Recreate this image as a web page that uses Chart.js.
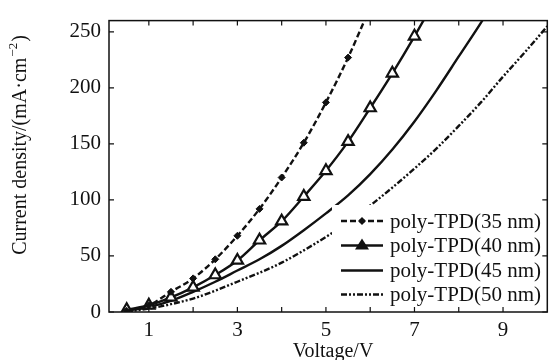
<!DOCTYPE html>
<html>
<head>
<meta charset="utf-8">
<script src="https://cdn.jsdelivr.net/npm/chart.js@4.4.1/dist/chart.umd.min.js"></script>
<style>
  html, body { margin: 0; padding: 0; background: #fff; }
  #wrap { width: 556px; height: 360px; }
</style>
</head>
<body>
<div id="wrap"><canvas id="myChart" width="556" height="360"></canvas></div>
<script>
//Voltage steps (V), every curve is sampled on the same 0.5 V grid
const voltage = [0.5, 1, 1.5, 2, 2.5, 3, 3.5, 4, 4.5, 5, 5.5, 6, 6.5, 7, 7.5, 8, 8.5, 9, 9.5, 10];
//Current density (mA/cm2), one list per film thickness
const tpd35 = [1, 6, 18, 30, 47, 68, 92, 120, 151, 187, 227, 272];
const tpd40 = [2, 6, 13, 22, 33, 46, 64, 81, 103, 126, 152, 182, 213, 246, 281];
const tpd45 = [1, 4.5, 10, 18, 27, 37, 47, 59, 73, 88, 104, 123, 145, 170, 198, 228, 258, 290];
const tpd50 = [0.5, 3, 7, 12, 19, 27, 35, 44, 55, 67, 80, 95, 111, 128, 146, 166, 187, 210, 232, 255];
const seriesNames = ['poly-TPD(35 nm)', 'poly-TPD(40 nm)', 'poly-TPD(45 nm)', 'poly-TPD(50 nm)'];
//Axis ticks: marks on every volt, labels only on odd ones
const xTicks = [1, 2, 3, 4, 5, 6, 7, 8, 9];
const xLabels = [1, 3, 5, 7, 9];
const yTicks = [0, 50, 100, 150, 200, 250];

const serif = '"Liberation Serif", "Times New Roman", serif';

//zip a current list with the voltage grid
const toPoints = (vals) => vals.map((j, i) => ({x: voltage[i], y: j}));

const baseLine = {
  borderColor: '#111',
  backgroundColor: '#111',
  borderWidth: 2.4,
  fill: false,
  cubicInterpolationMode: 'monotone',
  pointRadius: 0
};

const datasets = [
  Object.assign({}, baseLine, {
    label: seriesNames[0], data: toPoints(tpd35),
    borderDash: [6, 3], pointStyle: 'rectRot', pointRadius: 3.5,
    pointBackgroundColor: '#111', pointBorderColor: '#111', pointBorderWidth: 1
  }),
  Object.assign({}, baseLine, {
    label: seriesNames[1], data: toPoints(tpd40),
    pointStyle: 'triangle', pointRadius: 6.5,
    pointBackgroundColor: '#fff', pointBorderColor: '#111', pointBorderWidth: 2.2
  }),
  Object.assign({}, baseLine, {label: seriesNames[2], data: toPoints(tpd45)}),
  Object.assign({}, baseLine, {
    label: seriesNames[3], data: toPoints(tpd50),
    borderDash: [6, 2, 2, 2, 2, 2]
  })
];

//Frame, inward ticks, axis titles and the white legend box are drawn by hand
const framePlugin = {
  id: 'frame',
  afterDatasetsDraw(chart) {
    const {ctx, chartArea: a, scales: {x, y}} = chart;
    ctx.save();

    //legend box covers the curves behind it
    ctx.fillStyle = '#fff';
    ctx.fillRect(332, 205, a.right - 332, a.bottom - 205);
    const rows = [221, 245.5, 270.5, 294.5];
    chart.data.datasets.forEach((ds, i) => {
      const yy = rows[i];
      ctx.strokeStyle = '#111';
      ctx.lineWidth = 2.4;
      ctx.setLineDash(ds.borderDash || []);
      ctx.beginPath();
      ctx.moveTo(341, yy);
      ctx.lineTo(383, yy);
      ctx.stroke();
      ctx.setLineDash([]);
      ctx.fillStyle = '#111';
      if (ds.pointStyle === 'rectRot') {
        ctx.beginPath();
        ctx.moveTo(362, yy - 4); ctx.lineTo(366, yy); ctx.lineTo(362, yy + 4); ctx.lineTo(358, yy);
        ctx.closePath(); ctx.fill();
      } else if (ds.pointStyle === 'triangle') {
        ctx.beginPath();
        ctx.moveTo(362, yy - 7); ctx.lineTo(369, yy + 4); ctx.lineTo(355, yy + 4);
        ctx.closePath(); ctx.fill();
      }
      ctx.font = '21px ' + serif;
      ctx.textAlign = 'left';
      ctx.textBaseline = 'middle';
      ctx.fillText(ds.label, 390, yy + 1);
    });

    //box
    ctx.strokeStyle = '#111';
    ctx.lineWidth = 1.5;
    ctx.strokeRect(a.left, a.top, a.right - a.left, a.bottom - a.top);

    //inward ticks on all four sides
    ctx.lineWidth = 1.2;
    ctx.beginPath();
    xTicks.forEach(v => {
      const px = x.getPixelForValue(v);
      ctx.moveTo(px, a.bottom); ctx.lineTo(px, a.bottom - 5);
      ctx.moveTo(px, a.top); ctx.lineTo(px, a.top + 5);
    });
    yTicks.forEach(v => {
      const py = y.getPixelForValue(v);
      ctx.moveTo(a.left, py); ctx.lineTo(a.left + 5, py);
      ctx.moveTo(a.right, py); ctx.lineTo(a.right - 5, py);
    });
    ctx.stroke();

    //axis titles
    ctx.fillStyle = '#111';
    ctx.font = '20px ' + serif;
    ctx.textAlign = 'center';
    ctx.textBaseline = 'middle';
    ctx.fillText('Voltage/V', 333, 352);

    ctx.translate(21, 145);
    ctx.rotate(-Math.PI / 2);
    const main = 'Current density/(mA\u00b7cm';
    const sup = '\u22122';
    const tail = ')';
    const wMain = ctx.measureText(main).width;
    const wTail = ctx.measureText(tail).width;
    ctx.font = '13px ' + serif;
    const wSup = ctx.measureText(sup).width;
    const total = wMain + wSup + wTail + 2;
    let cx = -total / 2;
    ctx.textAlign = 'left';
    ctx.font = '20px ' + serif;
    ctx.fillText(main, cx, 0);
    cx += wMain + 1;
    ctx.font = '13px ' + serif;
    ctx.fillText(sup, cx, -7);
    cx += wSup + 1;
    ctx.font = '20px ' + serif;
    ctx.fillText(tail, cx, 0);
    ctx.restore();
  }
};

const chart1 = new Chart(document.getElementById('myChart'), {
  type: 'line',
  data: {datasets: datasets},
  options: {
    responsive: false,
    animation: false,
    devicePixelRatio: 1,
    layout: {padding: {top: 13, right: 1, left: 0, bottom: 0}},
    plugins: {legend: {display: false}, tooltip: {enabled: false}},
    scales: {
      x: {
        type: 'linear', min: 0.1, max: 10,
        afterBuildTicks: (s) => { s.ticks = xTicks.map(v => ({value: v})); },
        afterFit: (s) => { s.height = 48; },
        grid: {display: false, drawTicks: false},
        border: {display: false},
        ticks: {
          color: '#111', padding: 6, maxRotation: 0, autoSkip: false,
          font: {family: serif, size: 21},
          callback: (v) => xLabels.includes(v) ? String(v) : ''
        }
      },
      y: {
        type: 'linear', min: 0, max: 260,
        afterBuildTicks: (s) => { s.ticks = yTicks.map(v => ({value: v})); },
        afterFit: (s) => { s.width = 109; },
        grid: {display: false, drawTicks: false},
        border: {display: false},
        ticks: {color: '#111', padding: 8, font: {family: serif, size: 21}}
      }
    }
  },
  plugins: [framePlugin]
});
</script>
</body>
</html>
